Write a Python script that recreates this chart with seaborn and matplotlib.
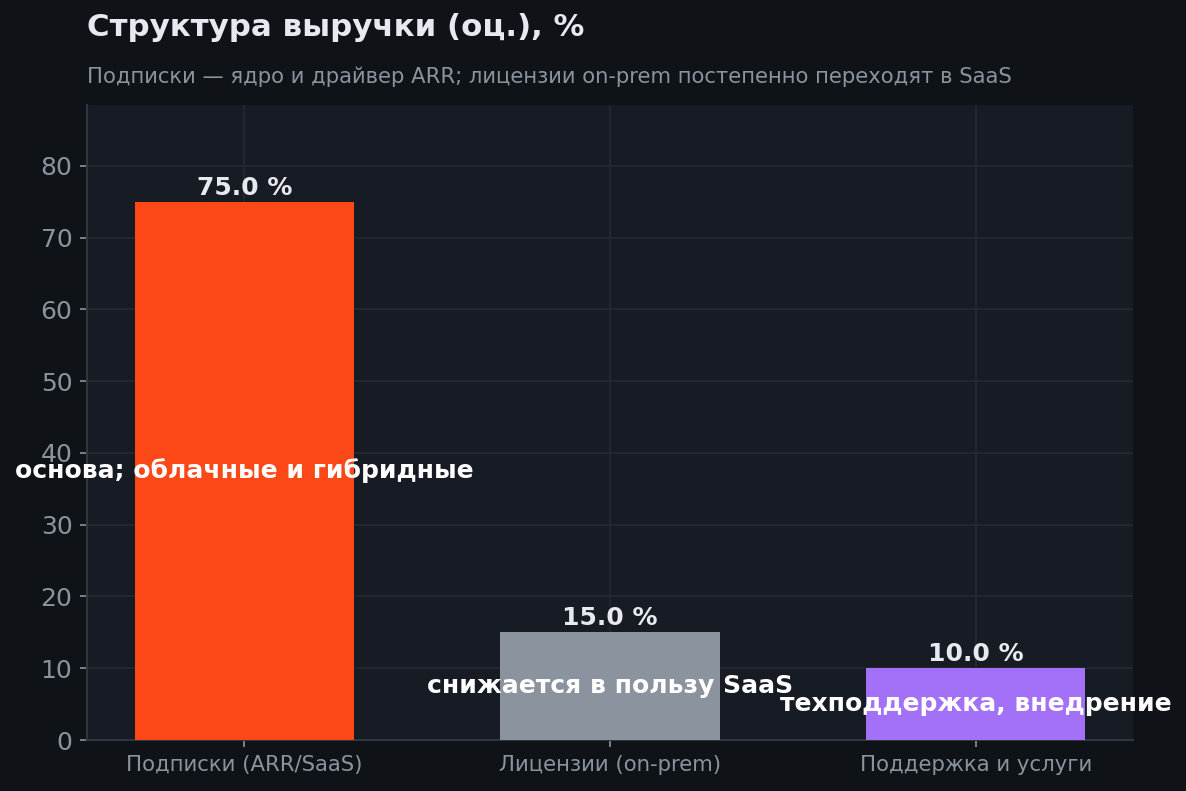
import matplotlib
matplotlib.use("Agg")
import matplotlib.pyplot as plt
import numpy as np
import pandas as pd
import seaborn as sns

# данные
categories = ["Подписки (ARR/SaaS)", "Лицензии (on-prem)", "Поддержка и услуги"]
shares = [75.0, 15.0, 10.0]
notes = ["основа; облачные и гибридные", "снижается в пользу SaaS", "техподдержка, внедрение"]
bar_colors = ["#fc4717", "#8b939e", "#a371f7"]

title = "Структура выручки (оц.), %"
subtitle = "Подписки — ядро и драйвер ARR; лицензии on-prem постепенно переходят в SaaS"


def main():
    sns.set_theme(style="dark")
    plt.rcParams["font.family"] = ["DejaVu Sans"]

    bg = "#0f1318"
    panel = "#171b23"
    grid_c = "#242934"
    spine_c = "#30363d"
    tick_c = "#8b939e"

    df = pd.DataFrame({"cat": categories, "share": shares})

    fig = plt.figure(figsize=(1186 / 150, 791 / 150), dpi=150, facecolor=bg)
    ax = fig.add_axes([87 / 1186, 1 - 740 / 791, (1133 - 87) / 1186, (740 - 105) / 791])
    ax.set_facecolor(panel)

    sns.barplot(data=df, x="cat", y="share", hue="cat", palette=bar_colors,
                width=0.6, saturation=1, legend=False, ax=ax, zorder=3,
                linewidth=0, edgecolor="none")

    ax.set_xlim(-0.43, 2.43)
    ax.set_ylim(0, max(shares) * 1.18)
    ax.set_yticks(np.arange(0, 81, 10))

    ax.grid(True, color=grid_c, linewidth=0.8, zorder=0)
    ax.set_axisbelow(True)
    for s in ["top", "right"]:
        ax.spines[s].set_visible(False)
    for s in ["left", "bottom"]:
        ax.spines[s].set_color(spine_c)
        ax.spines[s].set_linewidth(1.0)

    ax.tick_params(axis="y", colors=tick_c, labelsize=12, length=3.5, width=0.8, left=True)
    ax.tick_params(axis="x", colors=tick_c, labelsize=10.2, length=3.5, width=0.8, bottom=True)
    ax.set_xlabel("")
    ax.set_ylabel("")

    for i, (v, note) in enumerate(zip(shares, notes)):
        ax.annotate(f"{v:.1f} %", (i, v), xytext=(0, 1), textcoords="offset points",
                    ha="center", va="bottom", fontsize=12, fontweight="bold",
                    color="#e6e9ef", zorder=5)
        ax.text(i, v / 2, note, ha="center", va="center", fontsize=12,
                fontweight="bold", color="white", zorder=5)

    fig.text(87 / 1186, 1 - 28 / 791, title, ha="left", va="center",
             fontsize=14.8, fontweight="bold", color="#e6e9ef")
    fig.text(87 / 1186, 1 - 77 / 791, subtitle, ha="left", va="center",
             fontsize=10.15, color="#8b939e")

    fig.savefig("out.png", dpi=150, facecolor=bg)


if __name__ == "__main__":
    main()
